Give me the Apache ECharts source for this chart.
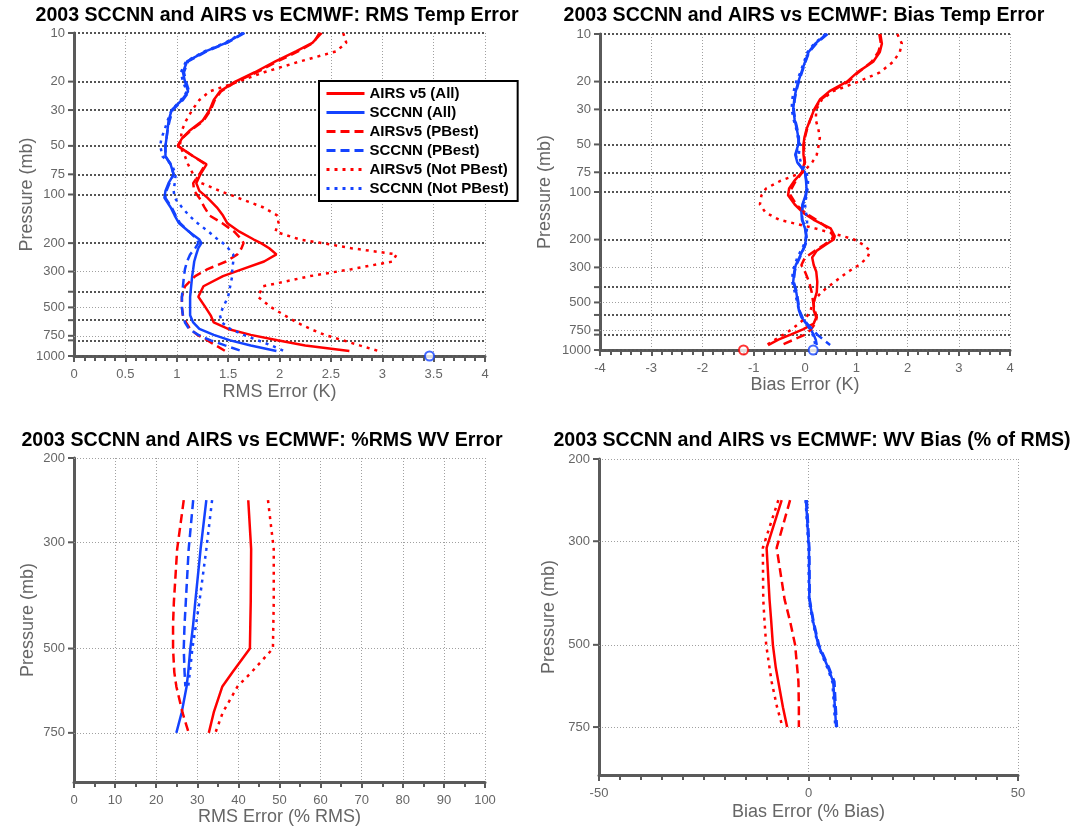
<!DOCTYPE html>
<html>
<head>
<meta charset="utf-8">
<title>2003 SCCNN and AIRS vs ECMWF</title>
<script src="https://cdn.jsdelivr.net/npm/echarts@6/dist/echarts.min.js"></script>
<style>
  html, body { margin: 0; padding: 0; background: #fff; }
  #main { width: 1088px; height: 827px; }
</style>
</head>
<body>
<div id="main"></div>
<script>
// pressure levels (mb) of the temperature profiles
const tempLevels = [10, 11.5, 13, 15, 17.5, 20, 23, 26, 30, 35, 40, 45, 50, 58, 65, 75, 85, 95, 105, 120,
  135, 150, 170, 190, 200, 215, 235, 260, 290, 320, 370, 430, 500, 560, 620, 680, 740, 800, 860, 930];

// RMS temperature error (K)
const rmsAirsAll = [2.41, 2.32, 2.16, 1.96, 1.76, 1.57, 1.42, 1.36, 1.32, 1.25, 1.13, 1.05, 1.01, 1.16, 1.29, 1.23, 1.19, 1.22, 1.30, 1.39,
  1.45, 1.49, 1.61, 1.75, 1.82, 1.90, 1.97, 1.85, 1.64, 1.45, 1.26, 1.21, 1.28, 1.33, 1.36, 1.50, 1.72, 1.98, 2.25, 2.68];
const rmsSccnnAll = [1.65, 1.48, 1.28, 1.10, 1.06, 1.08, 1.11, 1.05, 0.95, 0.92, 0.91, 0.90, 0.89, 0.89, 0.94, 0.97, 0.92, 0.89, 0.88, 0.94,
  0.98, 1.02, 1.12, 1.22, 1.24, 1.21, 1.19, 1.17, 1.16, 1.15, 1.14, 1.13, 1.13, 1.13, 1.16, 1.22, 1.36, 1.52, 1.72, 1.97];
const rmsAirsBest = [2.39, 2.33, 2.18, 1.98, 1.78, 1.58, 1.43, 1.37, 1.33, 1.26, 1.14, 1.05, 1.01, 1.16, 1.28, 1.22, 1.16, 1.17, 1.22, 1.27,
  1.32, 1.44, 1.56, 1.63, 1.65, 1.63, 1.59, 1.48, 1.30, 1.18, 1.08, 1.05, 1.05, 1.06, 1.09, 1.13, 1.20, 1.30, 1.38, 1.47];
const rmsSccnnBest = [1.66, 1.49, 1.29, 1.11, 1.07, 1.09, 1.12, 1.06, 0.96, 0.93, 0.91, 0.90, 0.89, 0.89, 0.94, 0.97, 0.93, 0.90, 0.89, 0.95,
  0.99, 1.03, 1.12, 1.20, 1.21, 1.18, 1.13, 1.10, 1.08, 1.07, 1.06, 1.05, 1.05, 1.06, 1.08, 1.12, 1.21, 1.33, 1.47, 1.63];
const rmsAirsNot = [2.62, 2.65, 2.55, 2.20, 1.85, 1.60, 1.32, 1.22, 1.15, 1.09, 1.05, 1.04, 1.03, 1.08, 1.11, 1.16, 1.24, 1.42, 1.60, 1.84,
  1.98, 1.99, 1.96, 2.20, 2.42, 2.70, 3.14, 3.10, 2.70, 2.30, 1.84, 1.79, 1.92, 2.05, 2.17, 2.30, 2.44, 2.62, 2.78, 2.96];
const rmsSccnnNot = [1.64, 1.47, 1.27, 1.09, 1.04, 1.06, 1.10, 1.04, 0.95, 0.91, 0.88, 0.85, 0.84, 0.86, 0.95, 0.99, 0.98, 0.97, 0.98, 1.05,
  1.12, 1.20, 1.31, 1.40, 1.45, 1.50, 1.55, 1.55, 1.54, 1.54, 1.52, 1.50, 1.45, 1.42, 1.44, 1.52, 1.65, 1.79, 1.92, 2.04];

// temperature bias (K)
const biasAirsAll = [1.47, 1.50, 1.46, 1.33, 1.02, 0.82, 0.48, 0.29, 0.18, 0.10, 0.03, -0.01, -0.03, -0.03, -0.01, -0.06, -0.21, -0.31, -0.33, -0.20,
  -0.04, 0.17, 0.50, 0.58, 0.56, 0.41, 0.23, 0.14, 0.17, 0.22, 0.24, 0.23, 0.17, 0.17, 0.22, 0.17, -0.04, -0.28, -0.52, -0.72];
const biasSccnnAll = [0.42, 0.20, 0.07, 0.00, -0.07, -0.13, -0.18, -0.21, -0.23, -0.20, -0.16, -0.13, -0.13, -0.19, -0.15, 0.00, 0.02, 0.03, 0.01, -0.05,
  -0.07, -0.06, 0.00, 0.02, 0.02, 0.00, -0.05, -0.11, -0.18, -0.21, -0.23, -0.17, -0.14, -0.12, -0.07, 0.02, 0.11, 0.17, 0.21, 0.23];
const biasAirsBest = [1.45, 1.48, 1.43, 1.30, 1.04, 0.85, 0.52, 0.31, 0.19, 0.10, 0.04, 0.00, -0.02, -0.02, 0.00, -0.05, -0.18, -0.26, -0.28, -0.17,
  0.00, 0.22, 0.45, 0.55, 0.52, 0.38, 0.20, 0.00, -0.07, 0.00, 0.08, 0.13, 0.16, 0.19, 0.23, 0.20, 0.12, 0.00, -0.22, -0.46];
const biasSccnnBest = [0.44, 0.22, 0.08, 0.01, -0.06, -0.12, -0.17, -0.20, -0.22, -0.19, -0.15, -0.12, -0.12, -0.18, -0.14, 0.00, 0.03, 0.04, 0.02, -0.04,
  -0.06, -0.05, 0.01, 0.03, 0.03, 0.01, -0.04, -0.10, -0.17, -0.20, -0.22, -0.16, -0.13, -0.11, -0.05, 0.04, 0.15, 0.24, 0.36, 0.49];
const biasAirsNot = [1.80, 1.89, 1.85, 1.72, 1.46, 1.05, 0.55, 0.33, 0.22, 0.21, 0.26, 0.29, 0.27, 0.23, 0.14, -0.04, -0.48, -0.76, -0.85, -0.88,
  -0.77, -0.50, 0.20, 0.73, 0.96, 1.13, 1.27, 1.22, 1.05, 0.84, 0.58, 0.32, 0.15, 0.11, 0.03, -0.12, -0.26, -0.42, -0.58, -0.75];
const biasSccnnNot = [0.40, 0.18, 0.05, -0.02, -0.09, -0.17, -0.22, -0.25, -0.26, -0.22, -0.17, -0.14, -0.10, -0.12, -0.08, 0.03, 0.06, 0.05, 0.03, 0.00,
  0.02, 0.04, 0.04, 0.02, 0.01, -0.02, -0.08, -0.15, -0.20, -0.24, -0.25, -0.20, -0.15, -0.12, -0.06, 0.03, 0.10, 0.15, 0.18, 0.20];

// surface circles [value, pressure]
const rmsSurfSccnn = [[3.46, 1000]];
const biasSurfAirs = [[-1.2, 1000]];
const biasSurfSccnn = [[0.16, 1000]];

// water vapour profiles
const wvLevels = [245, 310, 400, 445, 500, 560, 600, 680, 750];
const wvRmsAirsAll = [42.4, 43.1, 43.0, 42.9, 42.8, 38.6, 36.1, 34.0, 32.8];
const wvRmsSccnnAll = [32.2, 30.8, 29.5, 29.0, 28.3, 27.8, 27.4, 26.2, 24.9];
const wvRmsAirsBest = [26.7, 25.1, 24.3, 24.1, 24.1, 24.4, 24.9, 26.4, 27.9];
const wvRmsSccnnBest = [29.0, 27.9, 27.2, 26.9, 26.7, 26.9, 27.1, null, null];
const wvRmsAirsNot = [47.2, 48.6, 48.6, 48.5, 48.4, 43.2, 39.8, 36.2, 34.4];
const wvRmsSccnnNot = [33.6, 32.2, 30.5, 29.7, 28.8, 28.2, 27.8, null, null];

const wvBiasAirsAll = [-6.4, -10.0, -9.3, -8.9, -8.5, -7.8, -7.2, -6.1, -5.1];
const wvBiasSccnnAll = [-0.6, 0.1, 0.2, 1.1, 2.3, 4.7, 5.9, 6.3, 6.6];
const wvBiasAirsBest = [-4.4, -7.6, -5.7, -4.4, -3.2, -2.7, -2.4, -2.3, -2.3];
const wvBiasSccnnBest = [-0.4, 0.2, 0.3, 1.2, 2.5, 4.9, 6.2, 6.5, 6.8];
const wvBiasAirsNot = [-7.2, -10.9, -10.8, -10.5, -10.1, -9.3, -8.8, -7.5, -6.2];
const wvBiasSccnnNot = [-0.7, 0.0, 0.1, 1.0, 2.2, 4.5, 5.7, 6.1, 6.4];

// pressure tick labels and the heavier dotted reference levels
const tempTickLabels = [10, 20, 30, 50, 75, 100, 200, 300, 500, 750, 1000];
const tempRefLevels = [10, 20, 30, 50, 75, 100, 200, 400, 600, 800, 1000];
const wvTickLabels = [200, 300, 500, 750];

const names = ['AIRS v5 (All)', 'SCCNN (All)', 'AIRSv5 (PBest)', 'SCCNN (PBest)', 'AIRSv5 (Not PBest)', 'SCCNN (Not PBest)'];

const RED = '#ff0000';
const BLUE = '#1443ff';
const AXIS = '#5a5a5a';
const FONT = '"Liberation Sans", Arial, sans-serif';
const DASH = [9, 5];
const DOT = [3, 5];

function pairs(vals, levels) {
    return levels.map((p, i) => [vals[i], p]).filter(d => d[0] !== null);
}

function profile(name, vals, levels, color, type, idx) {
    return {
        name: name, type: 'line', xAxisIndex: idx, yAxisIndex: idx,
        data: pairs(vals, levels), symbol: 'none', z: 3,
        lineStyle: { color: color, width: 2.5, type: type },
        itemStyle: { color: color }
    };
}

function circle(name, data, color, idx) {
    return {
        name: name, type: 'scatter', xAxisIndex: idx, yAxisIndex: idx, data: data,
        symbol: 'emptyCircle', symbolSize: 9, clip: false, z: 4,
        itemStyle: { color: color, borderWidth: 2.5 }
    };
}

// horizontal pressure grid lines + their labels (with a small tick), drawn by markLine on the log axis
function pressureGrid(idx, labelled, heavy) {
    const levels = Array.from(new Set(labelled.concat(heavy))).sort((a, b) => a - b);
    return {
        name: 'grid' + idx, type: 'line', xAxisIndex: idx, yAxisIndex: idx, data: [], z: 1, silent: true,
        markLine: {
            silent: true, symbol: 'none', z: 1, animation: false,
            label: {
                show: true, position: 'start', distance: 0,
                rich: {
                    v: { color: '#666', fontSize: 13, fontFamily: FONT, padding: [0, 3, 0, 0] },
                    t: { width: 6, height: 2, backgroundColor: AXIS }
                }
            },
            data: levels.map(p => ({
                yAxis: p,
                lineStyle: heavy.includes(p)
                    ? { color: '#555', width: 2, type: [2, 2] }
                    : { color: '#a0a0a0', width: 1, type: [1, 2] },
                label: { formatter: labelled.includes(p) ? '{v|' + p + '}{t|}' : '{t|}' }
            }))
        }
    };
}

function xAx(idx, min, max, interval, minorSplit, name, nameGap) {
    return {
        gridIndex: idx, type: 'value', min: min, max: max, interval: interval,
        name: name, nameLocation: 'middle', nameGap: nameGap,
        nameTextStyle: { color: '#666', fontSize: 18, fontFamily: FONT },
        axisLine: { onZero: false, lineStyle: { color: AXIS, width: 3 } },
        axisTick: { show: true, length: 6, lineStyle: { color: AXIS, width: 2 } },
        minorTick: { show: true, splitNumber: minorSplit, length: 5, lineStyle: { color: AXIS, width: 2 } },
        axisLabel: { color: '#666', fontSize: 13, margin: 12, fontFamily: FONT },
        splitLine: { show: true, lineStyle: { color: '#a0a0a0', width: 1, type: [1, 2] } }
    };
}

function yAx(idx, min, max, nameGap) {
    return {
        gridIndex: idx, type: 'log', logBase: 10, min: min, max: max, inverse: true,
        name: 'Pressure (mb)', nameLocation: 'middle', nameGap: nameGap, nameRotate: 90,
        nameTextStyle: { color: '#666', fontSize: 18, fontFamily: FONT },
        axisLine: { show: true, onZero: false, lineStyle: { color: AXIS, width: 3 } },
        axisTick: { show: false }, axisLabel: { show: false },
        splitLine: { show: false }, minorTick: { show: false }, minorSplitLine: { show: false }
    };
}

function title(text, x, y) {
    return {
        text: text, left: x, top: y, textAlign: 'center', padding: 0,
        textStyle: { color: '#000', fontSize: 19.6, fontWeight: 'bold', fontFamily: FONT }
    };
}

const styles = [
    [RED, 'solid'], [BLUE, 'solid'], [RED, DASH], [BLUE, DASH], [RED, DOT], [BLUE, DOT]
];
const panels = [
    [rmsAirsAll, rmsSccnnAll, rmsAirsBest, rmsSccnnBest, rmsAirsNot, rmsSccnnNot],
    [biasAirsAll, biasSccnnAll, biasAirsBest, biasSccnnBest, biasAirsNot, biasSccnnNot],
    [wvRmsAirsAll, wvRmsSccnnAll, wvRmsAirsBest, wvRmsSccnnBest, wvRmsAirsNot, wvRmsSccnnNot],
    [wvBiasAirsAll, wvBiasSccnnAll, wvBiasAirsBest, wvBiasSccnnBest, wvBiasAirsNot, wvBiasSccnnNot]
];

const series = [
    pressureGrid(0, tempTickLabels, tempRefLevels),
    pressureGrid(1, tempTickLabels, tempRefLevels),
    pressureGrid(2, wvTickLabels, []),
    pressureGrid(3, wvTickLabels, [])
];
panels.forEach((set, idx) => {
    const levels = idx < 2 ? tempLevels : wvLevels;
    set.forEach((vals, k) => {
        series.push(profile(names[k], vals, levels, styles[k][0], styles[k][1], idx));
    });
});
series.push(circle('rmsSurfSccnn', rmsSurfSccnn, BLUE, 0));
series.push(circle('biasSurfAirs', biasSurfAirs, RED, 1));
series.push(circle('biasSurfSccnn', biasSurfSccnn, BLUE, 1));

const chart = echarts.init(document.getElementById('main'));
chart.setOption({
    animation: false,
    backgroundColor: '#fff',
    title: [
        title('2003 SCCNN and AIRS vs ECMWF: RMS Temp Error', 277, 6),
        title('2003 SCCNN and AIRS vs ECMWF: Bias Temp Error', 804, 6),
        title('2003 SCCNN and AIRS vs ECMWF: %RMS WV Error', 262, 431),
        title('2003 SCCNN and AIRS vs ECMWF: WV Bias (% of RMS)', 812, 431)
    ],
    legend: {
        data: names, orient: 'vertical', left: 319, top: 81,
        padding: [5, 9, 5, 6], itemGap: 4, itemWidth: 38, itemHeight: 14,
        backgroundColor: '#fff', borderColor: '#000', borderWidth: 2, borderRadius: 0,
        selectedMode: false,
        itemStyle: { opacity: 0 },
        lineStyle: { width: 3 },
        textStyle: { color: '#000', fontSize: 15, fontWeight: 'bold', fontFamily: FONT }
    },
    grid: [
        { left: 74, top: 33, width: 411, height: 323 },
        { left: 600, top: 34, width: 410, height: 316 },
        { left: 74, top: 458, width: 411, height: 324 },
        { left: 599, top: 459, width: 419, height: 316 }
    ],
    xAxis: [
        xAx(0, 0, 4, 0.5, 5, 'RMS Error (K)', 27),
        xAx(1, -4, 4, 1, 5, 'Bias Error (K)', 25),
        xAx(2, 0, 100, 10, 2, 'RMS Error (% RMS)', 25),
        xAx(3, -50, 50, 50, 10, 'Bias Error (% Bias)', 28)
    ],
    yAxis: [
        yAx(0, 10, 1000, 38),
        yAx(1, 10, 1000, 46),
        yAx(2, 200, 950, 37),
        yAx(3, 200, 950, 41)
    ],
    series: series
});
</script>
</body>
</html>
